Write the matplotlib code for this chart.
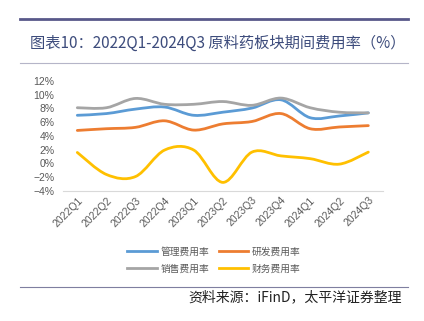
import matplotlib.pyplot as plt
import numpy as np
from matplotlib.path import Path
from matplotlib.patches import PathPatch
from matplotlib.lines import Line2D

plt.rcParams['font.family'] = ['Noto Sans CJK SC', 'DejaVu Sans']

quarters = ['2022Q1', '2022Q2', '2022Q3', '2022Q4', '2023Q1', '2023Q2',
            '2023Q3', '2023Q4', '2024Q1', '2024Q2', '2024Q3']
guanli = [7.0, 7.25, 7.9, 8.2, 7.0, 7.45, 8.05, 9.25, 6.65, 6.9, 7.35]
yanfa = [4.8, 5.05, 5.25, 6.2, 4.85, 5.75, 6.1, 7.25, 5.05, 5.3, 5.5]
xiaoshou = [8.1, 8.1, 9.45, 8.6, 8.6, 9.0, 8.45, 9.5, 8.1, 7.45, 7.35]
caiwu = [1.6, -1.6, -1.9, 1.95, 1.95, -2.75, 1.65, 1.1, 0.7, -0.1, 1.65]

names = ['管理费用率', '研发费用率', '销售费用率', '财务费用率']
colors = ['#5B9BD5', '#ED7D31', '#A5A5A5', '#FFC000']


def smooth_path(xs, ys):
    # excel-like smoothed line: cubic bezier through the points
    pts = np.column_stack([xs, ys]).astype(float)
    verts = [pts[0]]
    codes = [Path.MOVETO]
    n = len(pts)
    for i in range(n - 1):
        p0 = pts[i - 1] if i > 0 else pts[i]
        p1 = pts[i]
        p2 = pts[i + 1]
        p3 = pts[i + 2] if i + 2 < n else pts[i + 1]
        c1 = p1 + (p2 - p0) / 6.0
        c2 = p2 - (p3 - p1) / 6.0
        verts += [c1, c2, p2]
        codes += [Path.CURVE4] * 3
    return Path(verts, codes)


fig = plt.figure(figsize=(4.24, 3.21), dpi=100)
ax = fig.add_axes([0.148, 0.405, 0.755, 0.343])

x = np.arange(len(quarters))
for vals, c in zip([guanli, yanfa, xiaoshou, caiwu], colors):
    patch = PathPatch(smooth_path(x, vals), facecolor='none', edgecolor=c,
                      lw=2.0, capstyle='round')
    ax.add_patch(patch)

ax.set_xlim(-0.5, len(quarters) - 0.5)
ax.set_ylim(-4, 12)
ax.set_yticks(np.arange(-4, 13, 2))
ax.set_yticklabels(['−%d%%' % -v if v < 0 else '%d%%' % v for v in range(-4, 13, 2)])
ax.set_xticks(x)
ax.set_xticklabels(quarters, rotation=45, ha='right', rotation_mode='anchor')
ax.tick_params(axis='both', length=0, labelsize=7.5, colors='#595959', pad=3)
ax.tick_params(axis='y', pad=6)
for lab in ax.get_xticklabels() + ax.get_yticklabels():
    lab.set_family(['Liberation Sans', 'DejaVu Sans'])
for s in ['top', 'right', 'left']:
    ax.spines[s].set_visible(False)
ax.spines['bottom'].set_color('#D9D9D9')

# column-wise fill in matplotlib, so order to read row by row
order = [0, 2, 1, 3]
handles = [Line2D([0], [0], color=colors[i], lw=2.0) for i in order]
fig.legend(handles, [names[i] for i in order], loc='center', bbox_to_anchor=(0.505, 0.19),
           ncol=2, frameon=False, fontsize=7, labelcolor='#595959',
           handlelength=3.0, columnspacing=1.0, handletextpad=0.4, labelspacing=0.75)

# header lines and title
fig.add_artist(Line2D([0.047, 0.962], [0.941, 0.941], color='#58588A', lw=2.0))
fig.add_artist(Line2D([0.047, 0.962], [0.804, 0.804], color='#B5B5C8', lw=0.8))
fig.text(0.07, 0.866, '图表10：2022Q1-2024Q3 原料药板块期间费用率（%）',
         fontsize=11, color='#3D4C7C', va='center', ha='left', weight='medium')

fig.add_artist(Line2D([0.047, 0.962], [0.106, 0.106], color='#7F7FA0', lw=0.8))
fig.text(0.948, 0.075, '资料来源：iFinD，太平洋证券整理', fontsize=10,
         style='italic', color='#222222', ha='right', va='center')

fig.savefig('out.png', dpi=100)
